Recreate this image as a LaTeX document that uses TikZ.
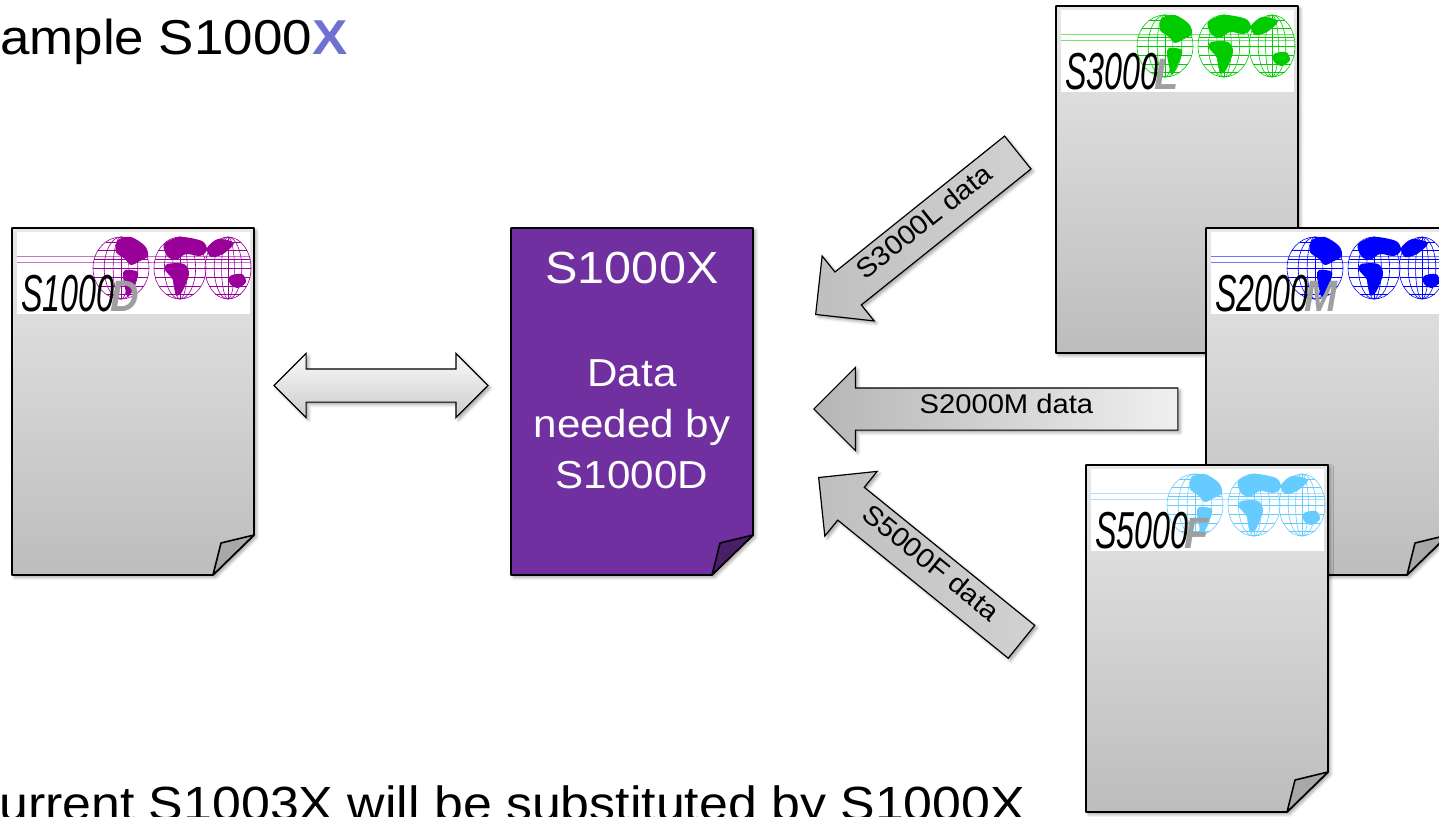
\documentclass[tikz,border=0pt]{standalone}
\usepackage{fontspec}
\setmainfont{Liberation Sans}[FakeStretch=1.08]
\newfontfamily\logofont{Liberation Sans}[FakeStretch=0.62]
\newfontfamily\letterfont{Liberation Sans}[FakeStretch=0.9]
\usetikzlibrary{
    shapes.arrows,
    shadows.blur,
    positioning
}

\definecolor{xpurple}{RGB}{112,48,160}
\definecolor{xblue}{RGB}{112,112,208}
\definecolor{logoD}{RGB}{153,0,153}
\definecolor{logoL}{RGB}{0,204,0}
\definecolor{logoM}{RGB}{0,0,255}
\definecolor{logoF}{RGB}{102,204,255}

\tikzset{
    softshadow/.style={blur shadow={shadow xshift=2.5pt, shadow yshift=-2.5pt,
        shadow blur radius=3pt, shadow opacity=35}},
    graysheet/.style={draw=black, line width=1.6pt, line join=round,
        top color=gray!18, bottom color=gray!52, softshadow},
    grayfold/.style={draw=black, line width=1.6pt, line join=round, fill=gray!68},
    purplesheet/.style={draw=black, line width=1.6pt, line join=round,
        fill=xpurple, softshadow},
    purplefold/.style={draw=black, line width=1.6pt, line join=round,
        fill=xpurple!65!black},
    blockarrow/.style={single arrow, draw=black, line width=1.2pt,
        shape border rotate=180, single arrow head extend=20.5pt,
        text height=14pt, text depth=5pt, inner ysep=11pt, inner xsep=0pt,
        font=\fontsize{27}{30}\selectfont, softshadow},
    whitetext/.style={text=white, inner sep=0pt},
    pics/sheet/.style 2 args={code={
        \path[#1] (0,0) -- (242,0) -- (242,307) -- (201,347) -- (0,347) -- cycle;
        \path[#2] (242,307) -- (209,315) -- (201,347) -- cycle;
    }},
    pics/logo/.style n args={3}{code={
        \fill[white] (5,4) rectangle (238,86);
        \draw[#3!55, line width=0.9pt] (5,28) -- (238,28) (5,34) -- (238,34);
        % globes
        \foreach \cx/\rx in {109/28, 168/26, 216/23} {
            \begin{scope}[shift={(\cx,40)}, #3, line width=0.6pt]
                \draw (0,0) ellipse [x radius=\rx, y radius=31];
                \draw (0,0) ellipse [x radius=0.6*\rx, y radius=31];
                \draw (0,0) ellipse [x radius=0.28*\rx, y radius=31];
                \draw (0,-31) -- (0,31);
                \foreach \dy/\f in {-26/0.545, -18/0.814, -9/0.957, 0/1, 9/0.957, 18/0.814, 26/0.545}
                    \draw ({-\f*\rx},\dy) -- ({\f*\rx},\dy);
            \end{scope}
        }
        % land
        \fill[#3] plot[smooth cycle] coordinates {(106,12) (119,9) (133,18) (136,28) (128,33) (119,37) (113,31) (104,24)};
        \fill[#3] plot[smooth cycle] coordinates {(113,42) (126,44) (123,56) (116,69) (113,60) (111,48)};
        \fill[#3] plot[smooth cycle] coordinates {(152,16) (168,9) (190,13) (195,22) (188,28) (174,26) (164,32) (155,28)};
        \fill[#3] plot[smooth cycle] coordinates {(155,36) (172,36) (177,46) (170,64) (164,67) (161,52) (153,42)};
        \fill[#3] plot[smooth cycle] coordinates {(195,20) (206,11) (222,15) (211,26) (199,29)};
        \fill[#3] plot[smooth cycle] coordinates {(218,48) (230,46) (234,54) (226,60) (218,56)};
        \node[anchor=base west, inner sep=0pt,
            font=\logofont\itshape\fontsize{52}{60}\selectfont] (-num) at (9,83) {#1};
        \node[anchor=base west, inner sep=0pt, text=gray!75,
            font=\letterfont\itshape\bfseries\fontsize{44}{50}\selectfont]
            (-ltr) at ([xshift=-4pt]-num.base east) {#2};
    }},
}

\begin{document}
\begin{tikzpicture}[x=1pt, y=-1pt]
    \useasboundingbox (0,0) rectangle (1439,816);
    \clip (0,0) rectangle (1439,816);

    \node[anchor=base west, inner sep=0pt, font=\fontsize{49}{58}\selectfont]
        (title) at (0,55) {ample S1000\textcolor{xblue}{\textbf{X}}};
    \node[anchor=base west, inner sep=0pt, font=\fontsize{48}{56}\selectfont]
        (note) at (-1,820) {urrent S1003X will be substituted by S1000X};

    % S1000D page
    \pic (s1000d) at (12,228) {sheet={graysheet}{grayfold}};
    \pic (s1000dlogo) at (12,228) {logo={S1000}{D}{logoD}};

    \node[double arrow, draw=black, line width=1.2pt, double arrow head extend=15.5pt,
        text height=0pt, text depth=0pt, inner ysep=16pt, inner xsep=0pt,
        minimum height=214pt, top color=gray!4, bottom color=gray!40, softshadow]
        (link) at (381,385.5) {};

    % S1000X page
    \pic (s1000x) at (511,228) {sheet={purplesheet}{purplefold}};
    \node[whitetext, anchor=base, font=\fontsize{45}{52}\selectfont]
        (xname) at (632,283) {S1000X};
    \node[whitetext, align=center, font=\fontsize{39}{51}\selectfont]
        (xdata) at (632,424) {Data\\needed by\\S1000D};

    % incoming data
    \node[blockarrow, rotate=38.7, anchor=tip, minimum height=259pt,
        left color=gray!50, right color=gray!36] (l3data) at (815,315)
        {\hspace*{6pt}S3000L data};
    \node[blockarrow, anchor=tip, minimum height=364pt,
        left color=gray!58, right color=gray!12] (m2data) at (813,409)
        {S2000M data};
    \node[blockarrow, rotate=-39, anchor=tip, minimum height=261pt,
        left color=gray!50, right color=gray!36] (f5data) at (818,477)
        {S5000F data};

    % other specs
    \pic (s3000l) at (1056,6) {sheet={graysheet}{grayfold}};
    \pic (s3000llogo) at (1056,6) {logo={S3000}{L}{logoL}};
    \pic (s2000m) at (1206,228) {sheet={graysheet}{grayfold}};
    \pic (s2000mlogo) at (1206,228) {logo={S2000}{M}{logoM}};
    \pic (s5000f) at (1086,465) {sheet={graysheet}{grayfold}};
    \pic (s5000flogo) at (1086,465) {logo={S5000}{F}{logoF}};
\end{tikzpicture}
\end{document}
